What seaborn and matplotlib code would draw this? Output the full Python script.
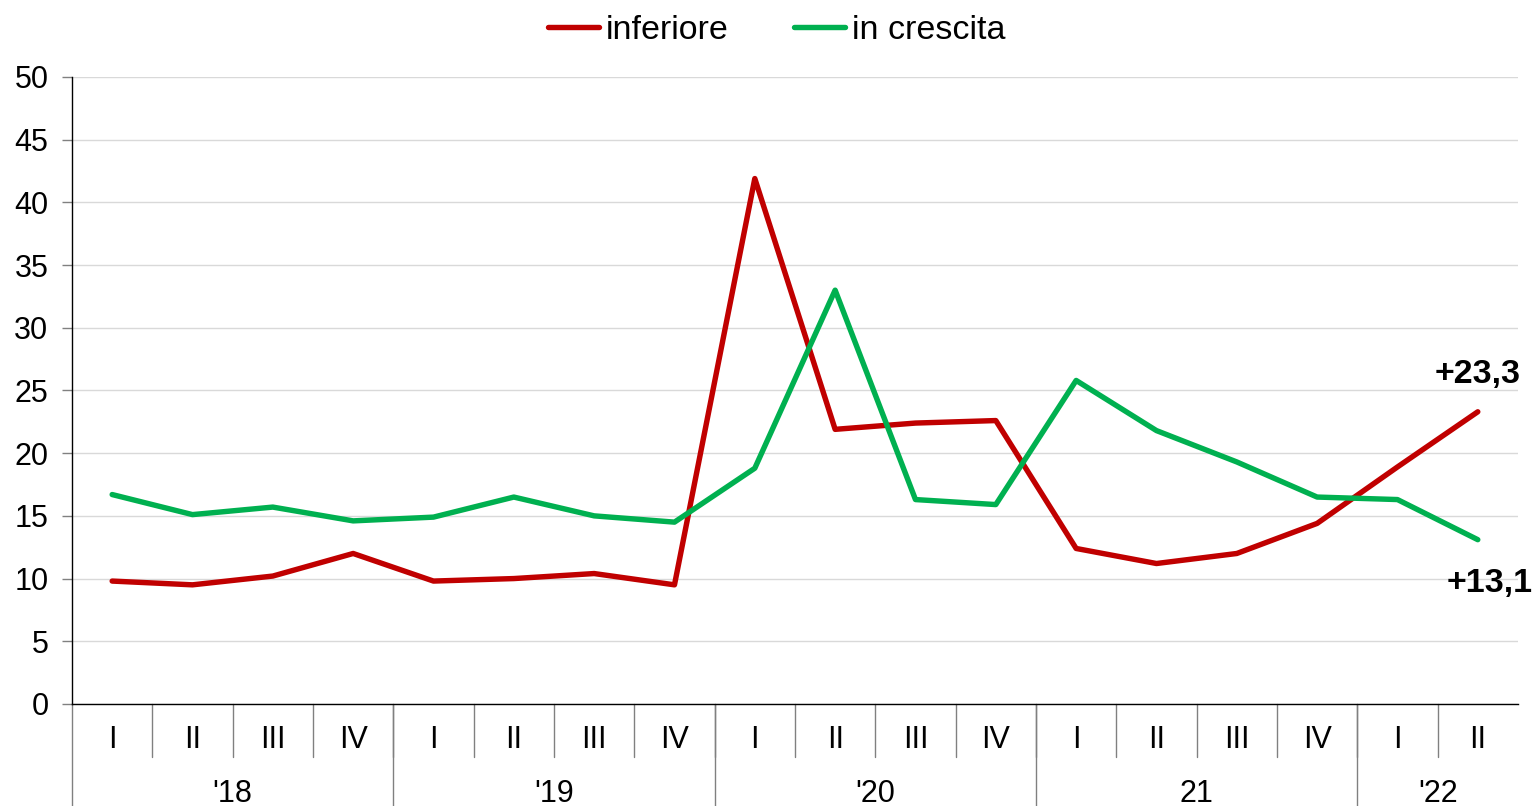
import pandas as pd
import seaborn as sns
import matplotlib.pyplot as plt
from matplotlib.lines import Line2D

# Data
quarters = ['I', 'II', 'III', 'IV'] * 4 + ['I', 'II']
years = ["'18", "'19", "'20", "21", "'22"]
year_len = [4, 4, 4, 4, 2]
inferiore = [9.8, 9.5, 10.2, 12.0, 9.8, 10.0, 10.4, 9.5,
             41.9, 21.9, 22.4, 22.6, 12.4, 11.2, 12.0, 14.4, 18.9, 23.3]
in_crescita = [16.7, 15.1, 15.7, 14.6, 14.9, 16.5, 15.0, 14.5,
               18.8, 33.0, 16.3, 15.9, 25.8, 21.8, 19.3, 16.5, 16.3, 13.1]

colors = {'inferiore': '#C00000', 'in crescita': '#00B050'}

df = pd.DataFrame({'pos': range(len(quarters)),
                   'inferiore': inferiore,
                   'in crescita': in_crescita})
df = df.melt(id_vars='pos', var_name='serie', value_name='val')

sns.set_style('white')
plt.rcParams['font.family'] = ['Liberation Sans', 'DejaVu Sans']
plt.rcParams['text.color'] = 'black'

fig = plt.figure(figsize=(15.35, 8.06), dpi=100)
ax = fig.add_axes([0.0469, 0.1266, 0.942, 0.7779])

sns.lineplot(data=df, x='pos', y='val', hue='serie', palette=colors,
             linewidth=3.9, ax=ax, legend=False)

ax.set_xlim(-0.5, len(quarters) - 0.5)
ax.set_ylim(0, 50)
ax.set_yticks(range(0, 51, 5))
ax.tick_params(axis='y', labelsize=22, length=7, color='#808080', width=1, pad=10,
               left=True, labelcolor='black')
ax.yaxis.grid(True, color='#d9d9d9', linewidth=1)
ax.set_axisbelow(True)
ax.set_xticks([])
ax.set_xlabel('')
ax.set_ylabel('')
for s in ['top', 'right']:
    ax.spines[s].set_visible(False)
ax.spines['left'].set_color('black')
ax.spines['bottom'].set_color('black')
ax.spines['left'].set_linewidth(1)
ax.spines['bottom'].set_linewidth(1)

# category axis: quarters and years
trans = ax.get_xaxis_transform()
for i, q in enumerate(quarters):
    ax.text(i, -0.058, q, transform=trans, ha='center', va='center', fontsize=22)
for i in range(1, len(quarters)):
    ax.plot([i - 0.5, i - 0.5], [0, -0.085], transform=trans, color='#808080',
            linewidth=1, clip_on=False)
start = 0
for y, n in zip(years, year_len):
    ax.text(start + n / 2 - 0.5, -0.143, y, transform=trans, ha='center', va='center', fontsize=22)
    ax.plot([start - 0.5, start - 0.5], [0, -0.17], transform=trans, color='#808080',
            linewidth=1, clip_on=False)
    start += n

# end labels
ax.text(17, inferiore[-1] + 3, '+23,3', ha='center', va='center', fontsize=24.5, fontweight='bold')
ax.text(17.15, in_crescita[-1] - 3.5, '+13,1', ha='center', va='center', fontsize=24.5, fontweight='bold')

handles = [Line2D([0], [0], color=colors[k], linewidth=3.9, solid_capstyle='round') for k in colors]
fig.legend(handles, list(colors), loc='center', bbox_to_anchor=(0.506, 0.962), ncol=2,
           frameon=False, fontsize=24.5, handlelength=1.5, handletextpad=0.2, columnspacing=1.9)

plt.savefig('out.png', dpi=100)
